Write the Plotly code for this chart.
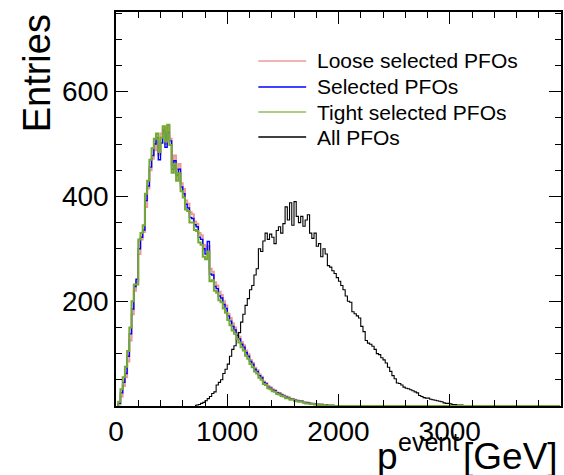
import plotly.graph_objects as go

# ---------------- data (20 GeV bins) ----------------
BIN_WIDTH = 20
SEL_START = 0      # first bin low edge of the selected-PFO histograms
ALL_START = 700    # first bin low edge of the All-PFO histogram
X_MAX = 4000

selected = [0, 5, 25, 45, 62, 95, 138, 185, 228, 242, 300, 322, 336, 392, 420, 456,
            478, 500, 512, 470, 502, 526, 494, 522, 506, 452, 468, 440, 452, 418,
            405, 385, 378, 360, 358, 346, 342, 322, 318, 300, 290, 314, 252, 250,
            228, 224, 210, 206, 194, 186, 172, 162, 152, 145, 135, 128, 118, 112,
            102, 95, 85, 80, 70, 66, 58, 54, 45, 42, 36, 34, 30, 29, 25, 24, 21,
            19, 17, 16, 13, 13, 11, 10, 9, 9, 7, 6, 6, 5, 4, 4, 3, 3, 3, 2, 2,
            1, 1, 1, 0]

loose = [0, 3, 18, 38, 55, 85, 125, 175, 220, 238, 290, 318, 332, 380, 415, 450,
         472, 488, 505, 480, 520, 530, 500, 534, 510, 460, 478, 452, 462, 425,
         414, 392, 386, 370, 366, 352, 348, 330, 326, 308, 298, 305, 262, 256,
         236, 230, 218, 212, 200, 192, 176, 168, 158, 150, 140, 132, 122, 116,
         106, 99, 88, 82, 73, 68, 60, 56, 47, 44, 38, 36, 32, 30, 26, 25, 22,
         20, 18, 17, 14, 13, 12, 11, 9, 9, 7, 7, 6, 5, 5, 4, 3, 3, 3, 2, 2,
         1, 1, 1, 0]

tight = [0, 8, 32, 55, 75, 105, 150, 200, 232, 232, 318, 330, 345, 405, 430, 470,
         492, 510, 520, 485, 512, 534, 505, 537, 498, 445, 462, 430, 444, 410,
         398, 375, 372, 350, 350, 336, 334, 312, 308, 285, 280, 295, 238, 240,
         220, 216, 202, 198, 186, 178, 164, 154, 144, 138, 128, 121, 112, 106,
         96, 90, 80, 74, 66, 62, 54, 50, 42, 40, 34, 32, 28, 27, 23, 22, 19,
         18, 15, 15, 12, 12, 10, 9, 8, 8, 6, 5, 5, 4, 4, 3, 3, 2, 2, 2, 1,
         1, 1, 0]

all_pfos = [1, 2, 3, 5, 7, 10, 14, 18, 24, 27, 40, 45, 50, 62, 70, 80, 95, 108,
            115, 128, 140, 160, 175, 192, 205, 222, 230, 250, 262, 300, 295, 315,
            330, 318, 328, 322, 310, 335, 342, 330, 348, 380, 355, 388, 345, 390,
            362, 350, 362, 343, 355, 365, 330, 320, 330, 305, 310, 285, 300, 290,
            268, 265, 258, 253, 245, 238, 230, 222, 210, 200, 198, 180, 176, 172,
            168, 152, 142, 125, 120, 118, 114, 108, 100, 98, 92, 88, 82, 74, 66,
            58, 52, 44, 43, 40, 36, 34, 33, 31, 29, 27, 25, 20, 18, 16, 15, 15,
            13, 12, 11, 10, 9, 8, 6, 5, 5, 4, 3, 3, 2, 2, 2, 1, 1, 1, 1, 0]

series = [
    ("Loose selected PFOs", loose, SEL_START, "#ec9a9a", 2.0),
    ("Selected PFOs", selected, SEL_START, "#0000ff", 1.4),
    ("All PFOs", all_pfos, ALL_START, "#000000", 1.1),
    ("Tight selected PFOs", tight, SEL_START, "#74a934", 2.0),
]
legend_order = [("Loose selected PFOs", "#ec9a9a"), ("Selected PFOs", "#0000ff"),
                ("Tight selected PFOs", "#8fc05a"), ("All PFOs", "#000000")]

FONT = "Liberation Sans, Arial, Helvetica, sans-serif"

fig = go.Figure()
for name, vals, start, color, w in series:
    nb = (X_MAX - start) // BIN_WIDTH
    full = list(vals) + [0] * (nb - len(vals))
    xs = [start + BIN_WIDTH * (i + 0.5) for i in range(nb)]
    fig.add_trace(go.Scatter(x=xs, y=full, mode="lines", name=name,
                             line=dict(color=color, width=w, shape="hvh"),
                             showlegend=False, hoverinfo="skip"))

axis_common = dict(showline=True, linecolor="black", linewidth=1.5, mirror="ticks",
                   ticks="inside", ticklen=12, tickwidth=1, tickcolor="black",
                   showgrid=False, zeroline=False,
                   tickfont=dict(family=FONT, size=28, color="black"))

fig.update_xaxes(range=[0, X_MAX], tickmode="array",
                 tickvals=[0, 1000, 2000, 3000, 4000],
                 ticktext=["0", "1000", "2000", "3000", ""],
                 minor=dict(ticks="inside", ticklen=6, dtick=200, tick0=0,
                            tickcolor="black", showgrid=False),
                 **axis_common)
fig.update_yaxes(range=[0, 752], tickmode="array",
                 tickvals=[0, 200, 400, 600], ticktext=["", "200", "400", "600"],
                 minor=dict(ticks="inside", ticklen=6, dtick=50, tick0=0,
                            tickcolor="black", showgrid=False),
                 **axis_common)

W, H = 564, 475
L, R, T, B = 116, 1, 12, 69
pw, ph = W - L - R, H - T - B

def px(xp):
    return (xp - L) / pw

def py(yp):
    return (H - B - yp) / ph

# manual legend (no frame)
rows = [61, 87, 112, 137]
for (name, color), yr in zip(legend_order, rows):
    fig.add_shape(type="line", xref="paper", yref="paper",
                  x0=px(259), x1=px(307), y0=py(yr), y1=py(yr),
                  line=dict(color=color, width=1.5))
    fig.add_annotation(text=name, xref="paper", yref="paper", x=px(316), y=py(yr),
                       xanchor="left", yanchor="middle", showarrow=False,
                       font=dict(family=FONT, size=21, color="black"))

fig.add_annotation(text="Entries", xref="paper", yref="paper", x=px(37), y=py(12),
                   xanchor="center", yanchor="top", textangle=-90, showarrow=False,
                   font=dict(family=FONT, size=38, color="black"))
# x-axis title: p^{event} [GeV]
fig.add_annotation(text="p", xref="paper", yref="paper",
                   x=px(376), y=py(479), xanchor="left", yanchor="bottom",
                   showarrow=False, font=dict(family=FONT, size=37, color="black"))
fig.add_annotation(text="event", xref="paper", yref="paper",
                   x=px(397), y=py(458), xanchor="left", yanchor="bottom",
                   showarrow=False, font=dict(family=FONT, size=25, color="black"))
fig.add_annotation(text="[GeV]", xref="paper", yref="paper",
                   x=px(562), y=py(479), xanchor="right", yanchor="bottom",
                   showarrow=False, font=dict(family=FONT, size=37, color="black"))

fig.update_layout(width=W, height=H, margin=dict(l=L, r=R, t=T, b=B),
                  paper_bgcolor="white", plot_bgcolor="white", showlegend=False)

fig.write_html("out.html")
